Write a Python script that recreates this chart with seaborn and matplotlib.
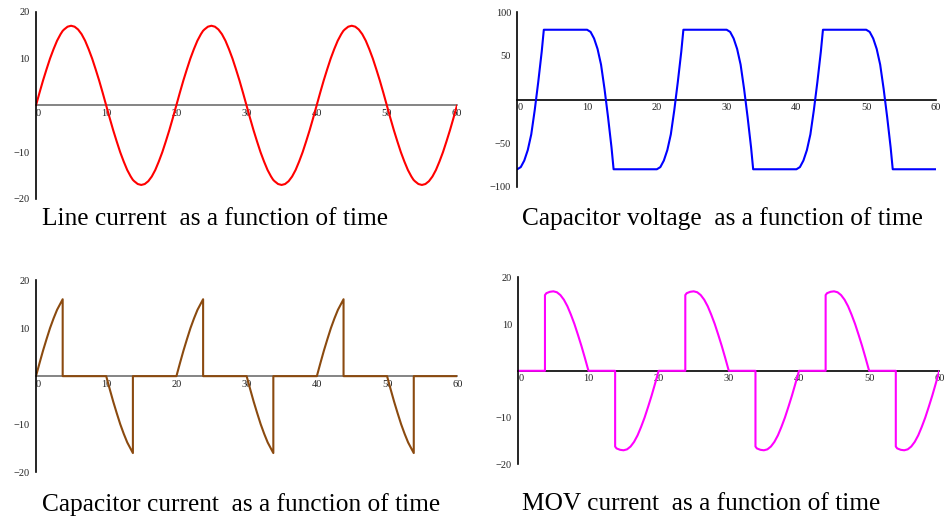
import seaborn as sns
import pandas as pd
import matplotlib.pyplot as plt

# --- four waveforms (time in ms) ---

t_ms = [
    0, 0.5, 1, 1.5, 2, 2.5, 3, 3.5, 3.8, 3.8, 4, 4.5, 5, 5.5, 6, 6.5, 7, 7.5, 8, 8.5, 9, 9.5,
    10, 10.5, 11, 11.5, 12, 12.5, 13, 13.5, 13.8, 13.8, 14, 14.5, 15, 15.5, 16, 16.5, 17, 17.5, 18, 18.5, 19, 19.5,
    20, 20.5, 21, 21.5, 22, 22.5, 23, 23.5, 23.8, 23.8, 24, 24.5, 25, 25.5, 26, 26.5, 27, 27.5, 28, 28.5, 29, 29.5,
    30, 30.5, 31, 31.5, 32, 32.5, 33, 33.5, 33.8, 33.8, 34, 34.5, 35, 35.5, 36, 36.5, 37, 37.5, 38, 38.5, 39, 39.5,
    40, 40.5, 41, 41.5, 42, 42.5, 43, 43.5, 43.8, 43.8, 44, 44.5, 45, 45.5, 46, 46.5, 47, 47.5, 48, 48.5, 49, 49.5,
    50, 50.5, 51, 51.5, 52, 52.5, 53, 53.5, 53.8, 53.8, 54, 54.5, 55, 55.5, 56, 56.5, 57, 57.5, 58, 58.5, 59, 59.5,
    60,
]

line_current = [
    0, 2.7, 5.3, 7.7, 10.0, 12.0, 13.8, 15.2, 15.9, 15.9, 16.2, 16.8, 17.0, 16.8, 16.2, 15.2, 13.8, 12.0, 10.0, 7.7, 5.3, 2.7,
    0, -2.7, -5.3, -7.7, -10.0, -12.0, -13.8, -15.2, -15.9, -15.9, -16.2, -16.8, -17.0, -16.8, -16.2, -15.2, -13.8, -12.0, -10.0, -7.7, -5.3, -2.7,
    0, 2.7, 5.3, 7.7, 10.0, 12.0, 13.8, 15.2, 15.9, 15.9, 16.2, 16.8, 17.0, 16.8, 16.2, 15.2, 13.8, 12.0, 10.0, 7.7, 5.3, 2.7,
    0, -2.7, -5.3, -7.7, -10.0, -12.0, -13.8, -15.2, -15.9, -15.9, -16.2, -16.8, -17.0, -16.8, -16.2, -15.2, -13.8, -12.0, -10.0, -7.7, -5.3, -2.7,
    0, 2.7, 5.3, 7.7, 10.0, 12.0, 13.8, 15.2, 15.9, 15.9, 16.2, 16.8, 17.0, 16.8, 16.2, 15.2, 13.8, 12.0, 10.0, 7.7, 5.3, 2.7,
    0, -2.7, -5.3, -7.7, -10.0, -12.0, -13.8, -15.2, -15.9, -15.9, -16.2, -16.8, -17.0, -16.8, -16.2, -15.2, -13.8, -12.0, -10.0, -7.7, -5.3, -2.7,
    0,
]

cap_voltage = [
    -80, -77.5, -70, -58, -40, -12, 20, 55, 80, 80, 80, 80, 80, 80, 80, 80, 80, 80, 80, 80, 80, 80,
    80, 77.5, 70, 58, 40, 12, -20, -55, -80, -80, -80, -80, -80, -80, -80, -80, -80, -80, -80, -80, -80, -80,
    -80, -77.5, -70, -58, -40, -12, 20, 55, 80, 80, 80, 80, 80, 80, 80, 80, 80, 80, 80, 80, 80, 80,
    80, 77.5, 70, 58, 40, 12, -20, -55, -80, -80, -80, -80, -80, -80, -80, -80, -80, -80, -80, -80, -80, -80,
    -80, -77.5, -70, -58, -40, -12, 20, 55, 80, 80, 80, 80, 80, 80, 80, 80, 80, 80, 80, 80, 80, 80,
    80, 77.5, 70, 58, 40, 12, -20, -55, -80, -80, -80, -80, -80, -80, -80, -80, -80, -80, -80, -80, -80, -80,
    -80,
]

cap_current = [
    0, 2.7, 5.3, 7.7, 10.0, 12.0, 13.8, 15.2, 16.0, 0, 0, 0, 0, 0, 0, 0, 0, 0, 0, 0, 0, 0,
    0, -2.7, -5.3, -7.7, -10.0, -12.0, -13.8, -15.2, -16.0, 0, 0, 0, 0, 0, 0, 0, 0, 0, 0, 0, 0, 0,
    0, 2.7, 5.3, 7.7, 10.0, 12.0, 13.8, 15.2, 16.0, 0, 0, 0, 0, 0, 0, 0, 0, 0, 0, 0, 0, 0,
    0, -2.7, -5.3, -7.7, -10.0, -12.0, -13.8, -15.2, -16.0, 0, 0, 0, 0, 0, 0, 0, 0, 0, 0, 0, 0, 0,
    0, 2.7, 5.3, 7.7, 10.0, 12.0, 13.8, 15.2, 16.0, 0, 0, 0, 0, 0, 0, 0, 0, 0, 0, 0, 0, 0,
    0, -2.7, -5.3, -7.7, -10.0, -12.0, -13.8, -15.2, -16.0, 0, 0, 0, 0, 0, 0, 0, 0, 0, 0, 0, 0, 0,
    0,
]

mov_current = [
    0, 0, 0, 0, 0, 0, 0, 0, 0, 16.2, 16.6, 16.9, 17.0, 16.8, 16.2, 15.2, 13.8, 12.0, 10.0, 7.7, 5.3, 2.7,
    0, 0, 0, 0, 0, 0, 0, 0, 0, -16.2, -16.6, -16.9, -17.0, -16.8, -16.2, -15.2, -13.8, -12.0, -10.0, -7.7, -5.3, -2.7,
    0, 0, 0, 0, 0, 0, 0, 0, 0, 16.2, 16.6, 16.9, 17.0, 16.8, 16.2, 15.2, 13.8, 12.0, 10.0, 7.7, 5.3, 2.7,
    0, 0, 0, 0, 0, 0, 0, 0, 0, -16.2, -16.6, -16.9, -17.0, -16.8, -16.2, -15.2, -13.8, -12.0, -10.0, -7.7, -5.3, -2.7,
    0, 0, 0, 0, 0, 0, 0, 0, 0, 16.2, 16.6, 16.9, 17.0, 16.8, 16.2, 15.2, 13.8, 12.0, 10.0, 7.7, 5.3, 2.7,
    0, 0, 0, 0, 0, 0, 0, 0, 0, -16.2, -16.6, -16.9, -17.0, -16.8, -16.2, -15.2, -13.8, -12.0, -10.0, -7.7, -5.3, -2.7,
    0,
]

df = pd.DataFrame({'t': t_ms, 'line': line_current, 'vcap': cap_voltage,
                   'icap': cap_current, 'imov': mov_current})

sns.set_style('white')
plt.rcParams['font.family'] = ['Liberation Serif', 'DejaVu Serif']

W, H = 952, 518
fig = plt.figure(figsize=(W / 100, H / 100), dpi=100)


def px_axes(x0, y0, x1, y1):
    # pixel box (top-left origin) -> figure fraction
    return fig.add_axes([x0 / W, 1 - y1 / H, (x1 - x0) / W, (y1 - y0) / H])


panels = [
    # col, color, box, ylim, ystep, axis colour, caption, caption pos
    ('line', '#ff0000', (36, 11.7, 457, 199), 20, 10, '#707070',
     'Line current  as a function of time', (42, 225)),
    ('vcap', '#0000ff', (517.3, 12.3, 936, 186.7), 100, 50, 'black',
     'Capacitor voltage  as a function of time', (521.5, 225)),
    ('icap', '#8b4a0f', (36, 280, 457.3, 472.3), 20, 10, '#707070',
     'Capacitor current  as a function of time', (42, 511.5)),
    ('imov', '#ff00ff', (518.3, 277.3, 939.3, 464.3), 20, 10, 'black',
     'MOV current  as a function of time', (522, 510.5)),
]

for col, color, box, ymax, ystep, xcol, caption, cpos in panels:
    ax = px_axes(*box)
    sns.lineplot(data=df, x='t', y=col, ax=ax, color=color, lw=1.5,
                 estimator=None, sort=False)
    ax.set_xlim(0, 60)
    ax.set_ylim(-ymax, ymax)
    ax.set_xlabel('')
    ax.set_ylabel('')
    ax.spines['top'].set_visible(False)
    ax.spines['right'].set_visible(False)
    ax.spines['bottom'].set_position(('data', 0))
    ax.spines['bottom'].set_color(xcol)
    ax.spines['bottom'].set_linewidth(1.2)
    ax.spines['left'].set_color('black')
    ax.spines['left'].set_linewidth(1.2)
    ax.spines['bottom'].set_zorder(1)

    ax.set_xticks(range(0, 61, 10))
    ax.set_xticklabels([str(v) for v in range(0, 61, 10)])
    ax.get_xticklabels()[0].set_horizontalalignment('left')
    yt = [-ymax, -ystep, 0, ystep, ymax]
    ax.set_yticks(yt)
    ax.set_yticklabels(['' if v == 0 else str(v).replace('-', '\u2212') for v in yt])

    ax.tick_params(axis='x', direction='in', length=4, width=1, color='black',
                   pad=2.5, labelsize=7.5, labelcolor='#222222')
    ax.tick_params(axis='y', direction='inout', length=7, width=1, color='black',
                   pad=1, labelsize=7.5, labelcolor='#222222')

    fig.text(cpos[0] / W, 1 - cpos[1] / H, caption, fontsize=18.3,
             va='baseline', ha='left', color='black')

fig.savefig('out.png', dpi=100)
